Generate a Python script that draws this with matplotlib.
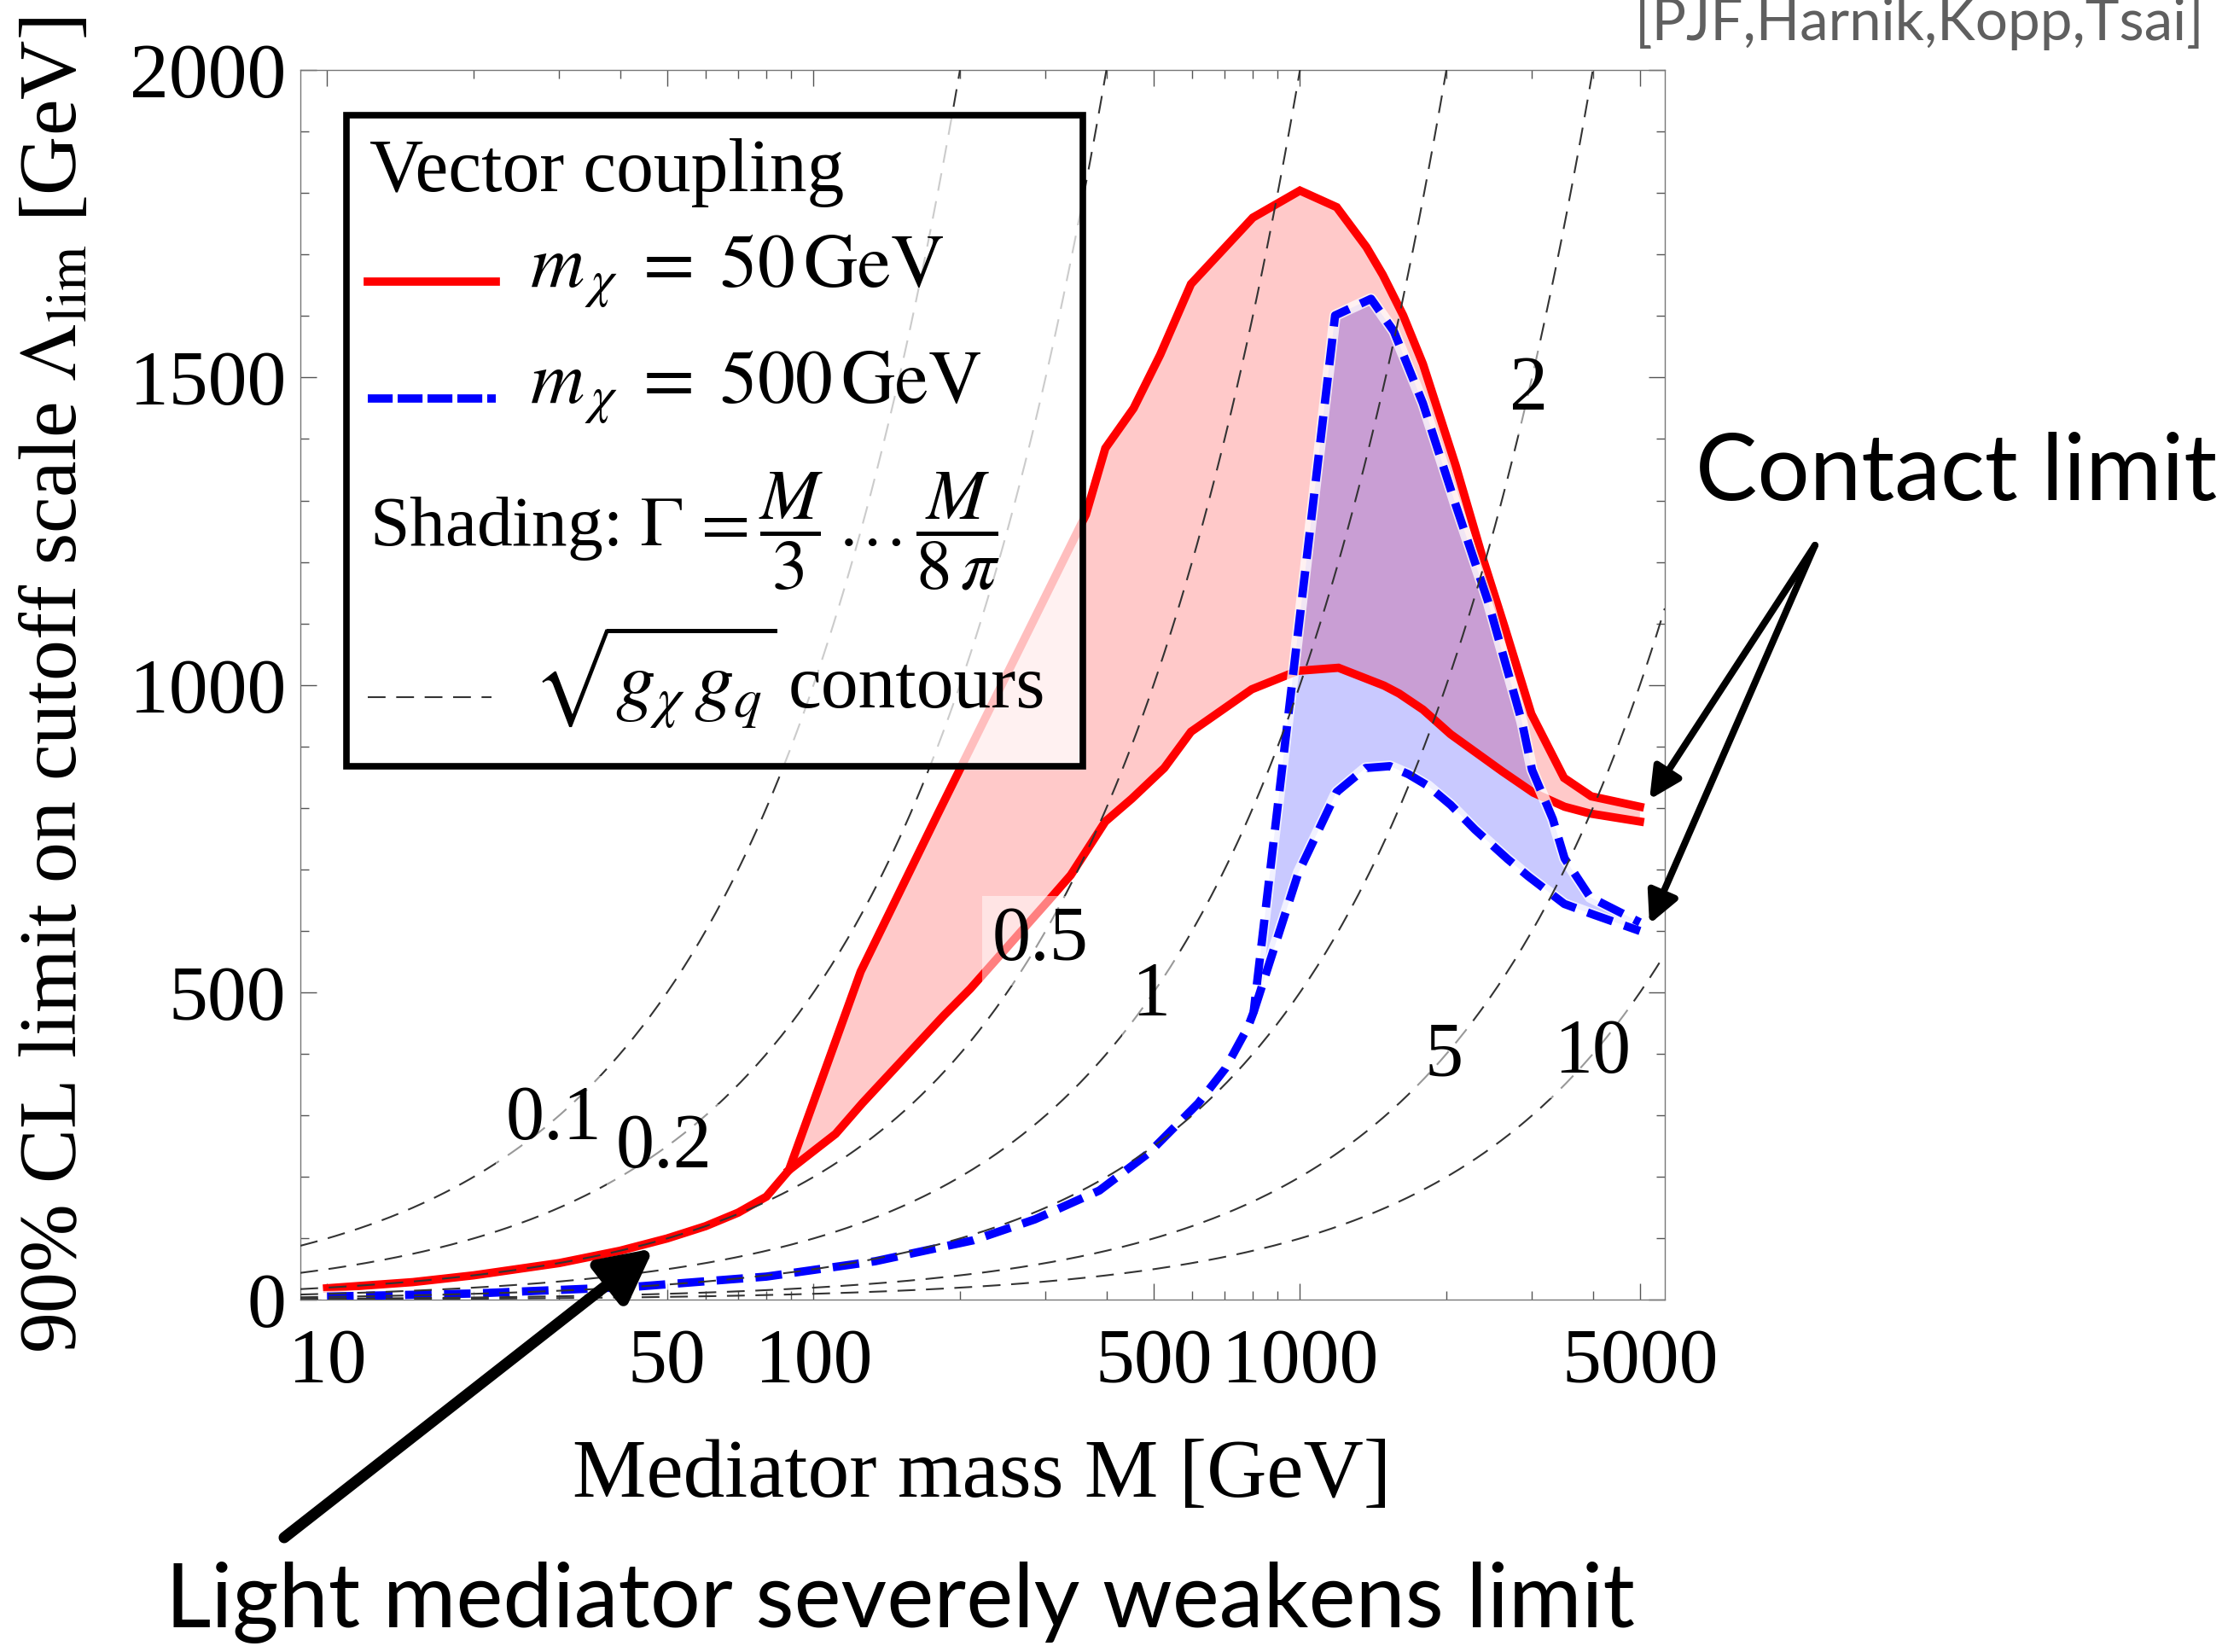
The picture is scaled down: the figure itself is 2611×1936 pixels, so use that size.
import numpy as np
import matplotlib
matplotlib.use("Agg")
import matplotlib.pyplot as plt
from matplotlib.patches import Rectangle, FancyArrowPatch
from matplotlib.lines import Line2D
from matplotlib.ticker import FixedLocator, FixedFormatter, NullFormatter

# 90% CL limit on Lambda [GeV] vs mediator mass M [GeV], vector coupling
# m_chi = 50 GeV: common light-mediator part, then the two width choices
red_mass_low = [10, 15, 20, 30, 40, 50, 60, 70, 80, 89]
red_lam_low = [19, 29, 40, 60, 80, 100, 120, 142, 168, 211]
red_mass_narrow = [89, 125, 180, 363, 398, 455, 516, 597, 800, 1000, 1190, 1370,
                   1480, 1630, 1790, 2090, 2370, 2640, 2990, 3490, 3970, 5000]
red_lam_narrow = [211, 534, 790, 1277, 1385, 1450, 1537, 1652, 1760, 1804, 1777, 1712,
                  1667, 1601, 1522, 1357, 1209, 1092, 953, 849, 819, 802]
red_mass_wide = [89, 111, 126, 185, 210, 303, 338, 398, 451, 526, 597, 796, 989, 1200,
                 1489, 1600, 1790, 2040, 2600, 3017, 3500, 3950, 5000]
red_lam_wide = [211, 270, 320, 462, 506, 648, 691, 778, 815, 865, 924, 993, 1023, 1028,
                999, 986, 960, 920, 860, 825, 802, 791, 778]

# m_chi = 500 GeV
blue_mass_low = [10, 20, 43, 80, 134, 213, 285, 387, 489, 618, 702, 782, 803]
blue_lam_low = [5.5, 10.5, 21.5, 38, 63, 97, 131, 178, 239, 320, 376, 444, 468]
blue_mass_narrow = [803, 1181, 1400, 1560, 1790, 2090, 2440, 2860, 3000, 3310, 3500, 3950, 5000]
blue_lam_narrow = [468, 1601, 1628, 1575, 1458, 1293, 1134, 940, 862, 782, 718, 655, 614]
blue_mass_wide = [803, 993, 1190, 1365, 1530, 1670, 1833, 2041, 2289, 2672, 2946, 3495, 4000, 5000]
blue_lam_wide = [468, 695, 826, 865, 868, 855, 836, 805, 765, 717, 689, 644, 627, 600]

# sqrt(g_chi g_q) contours: Lambda = M / g
couplings = [0.1, 0.2, 0.5, 1, 2, 5, 10]
coupling_labels = ["0.1", "0.2", "0.5", "1", "2", "5", "10"]
coupling_label_mass = [29.2, 49.3, 292, 493, 2958, 1976, 4000]

x_ticks = [10, 50, 100, 500, 1000, 5000]
x_minor = [20, 30, 40, 60, 70, 80, 90, 200, 300, 400, 600, 700, 800, 900, 2000, 3000, 4000]
y_ticks = [0, 500, 1000, 1500, 2000]

RED = "#ff0000"
BLUE = "#0000ff"
LW = 7
BLUE_DASH = (3.2, 1.5)
GRID_DASH = (10, 6)

plt.rcParams["font.family"] = ["Liberation Serif", "DejaVu Serif"]
plt.rcParams["mathtext.fontset"] = "stix"

fig = plt.figure(figsize=(26.11, 19.36), dpi=100)
ax = fig.add_axes([0.1348, 0.2131, 0.6124, 0.7445])
ax.set_xscale("log")
ax.set_xlim(8.81, 5623)
ax.set_ylim(0, 2000)

# shaded bands between the two width hypotheses
red_poly_m = red_mass_narrow + red_mass_wide[::-1]
red_poly_l = red_lam_narrow + red_lam_wide[::-1]
ax.fill(red_poly_m, red_poly_l, color=RED, alpha=0.21, lw=0, zorder=2)
blue_poly_m = blue_mass_narrow + blue_mass_wide[::-1]
blue_poly_l = blue_lam_narrow + blue_lam_wide[::-1]
ax.fill(blue_poly_m, blue_poly_l, color=BLUE, alpha=0.21, lw=0, zorder=3)

# red solid curves
ax.plot(red_mass_low + red_mass_narrow[1:], red_lam_low + red_lam_narrow[1:],
        color=RED, lw=LW, solid_joinstyle="miter", zorder=4)
ax.plot(red_mass_wide, red_lam_wide, color=RED, lw=LW, solid_joinstyle="miter", zorder=4)

# blue dashed curves with a white halo showing in the gaps
blue_a_m = blue_mass_low + blue_mass_narrow[1:]
blue_a_l = blue_lam_low + blue_lam_narrow[1:]
for m, l in [(blue_a_m, blue_a_l), (blue_mass_wide, blue_lam_wide)]:
    ax.plot(m, l, color="white", lw=LW + 2.5, alpha=0.75, zorder=4.5)
    ax.plot(m, l, color=BLUE, lw=LW, dashes=BLUE_DASH, dash_capstyle="butt", zorder=5)

# coupling contours
mgrid = np.geomspace(8.81, 5623, 500)
for g in couplings:
    ax.plot(mgrid, mgrid / g, color="#333333", lw=1.5, dashes=GRID_DASH, zorder=6)

for g, txt, m in zip(couplings, coupling_labels, coupling_label_mass):
    ax.text(m, m / g, txt, fontsize=65, ha="center", va="center", zorder=7,
            bbox=dict(boxstyle="square,pad=0.12", fc="white", ec="none", alpha=0.5))

# axis frame and ticks
ax.xaxis.set_major_locator(FixedLocator(x_ticks))
ax.xaxis.set_major_formatter(FixedFormatter([str(t) for t in x_ticks]))
ax.xaxis.set_minor_locator(FixedLocator(x_minor))
ax.xaxis.set_minor_formatter(NullFormatter())
ax.yaxis.set_major_locator(FixedLocator(y_ticks))
ax.yaxis.set_major_formatter(FixedFormatter([str(t) for t in y_ticks]))
ax.yaxis.set_minor_locator(FixedLocator(np.arange(0, 2001, 100)))
ax.tick_params(which="both", direction="in", top=True, right=True, color="#555555",
               width=1.0, labelsize=66)
ax.tick_params(which="major", length=14)
ax.tick_params(which="minor", length=7)
ax.tick_params(axis="x", pad=24)
ax.tick_params(axis="y", pad=12)
for side in ["top", "left", "bottom", "right"]:
    ax.spines[side].set_color("#777777")
    ax.spines[side].set_linewidth(1.0)

fig.text(0.4406, 1 - 1753.6 / 1936, "Mediator mass M [GeV]", fontsize=70,
         ha="center", va="baseline")
fig.text(66 / 2611, 0.5852, r"90% CL limit on cutoff scale $\Lambda_{\mathrm{lim}}$ [GeV]",
         fontsize=69, rotation=90, ha="center", va="center")

# legend box drawn by hand
ax.add_patch(Rectangle((0.0338, 0.434), 0.5397, 0.529, transform=ax.transAxes,
                       fc=(1, 1, 1, 0.75), ec="black", lw=5.5, zorder=10))
leg_fs = 63
ax.text(0.0507, 0.9017, "Vector coupling", transform=ax.transAxes, fontsize=leg_fs,
        va="baseline", zorder=11)
ax.add_line(Line2D([0.0494, 0.1432], [0.828, 0.828], transform=ax.transAxes,
                   color=RED, lw=LW, zorder=11))
ax.text(0.168, 0.8228, r"$m_{\,\chi}\; = \;50\,\mathrm{GeV}$", transform=ax.transAxes,
        fontsize=leg_fs, va="baseline", zorder=11)
ax.add_line(Line2D([0.0494, 0.1432], [0.733, 0.733], transform=ax.transAxes,
                   color=BLUE, lw=LW, dashes=(3.0, 0.6), zorder=11))
ax.text(0.168, 0.7288, r"$m_{\,\chi}\; = \;500\,\mathrm{GeV}$", transform=ax.transAxes,
        fontsize=leg_fs, va="baseline", zorder=11)
ax.text(0.0507, 0.6129, r"Shading: $\Gamma\, = \dfrac{M}{3}\,\ldots\,\dfrac{M}{8\,\pi}$",
        transform=ax.transAxes, fontsize=60, va="baseline", zorder=11)
ax.add_line(Line2D([0.0494, 0.140], [0.4898, 0.4898], transform=ax.transAxes,
                   color="#333333", lw=1.5, dashes=GRID_DASH, zorder=11))
ax.text(0.170, 0.482, r"$\sqrt{g_{\chi}\,g_{q}}$", transform=ax.transAxes,
        fontsize=67, va="baseline", zorder=11)
ax.text(0.3577, 0.482, "contours", transform=ax.transAxes,
        fontsize=leg_fs, va="baseline", zorder=11)

# annotations
sans = ["Lato", "DejaVu Sans"]
fig.text(2250 / 2611, 1 - 47 / 1936, "[PJF,Harnik,Kopp,Tsai]", family=sans,
         fontsize=48.5, color="#5f5f5f", ha="center", va="baseline")
fig.text(2293 / 2611, 1 - 586 / 1936, "Contact limit", family=sans, fontsize=78,
         ha="center", va="baseline")
fig.text(1055 / 2611, 1 - 1907 / 1936, "Light mediator severely weakens limit",
         family=sans, fontsize=75, ha="center", va="baseline")

arrow_big = FancyArrowPatch((333 / 2611, 1 - 1802 / 1936), (766 / 2611, 1 - 1463 / 1936),
                            transform=fig.transFigure, color="black", lw=9.4,
                            arrowstyle="-|>,head_length=37,head_width=19",
                            shrinkA=0, shrinkB=0, zorder=20)
fig.add_artist(arrow_big)
for tip in [(1933, 937), (1933, 1083)]:
    arr = FancyArrowPatch((2127 / 2611, 1 - 639 / 1936), (tip[0] / 2611, 1 - tip[1] / 1936),
                          transform=fig.transFigure, color="black", lw=5.8,
                          arrowstyle="-|>,head_length=22,head_width=11",
                          shrinkA=0, shrinkB=0, zorder=20)
    fig.add_artist(arr)

fig.savefig("out.png", dpi=100)
